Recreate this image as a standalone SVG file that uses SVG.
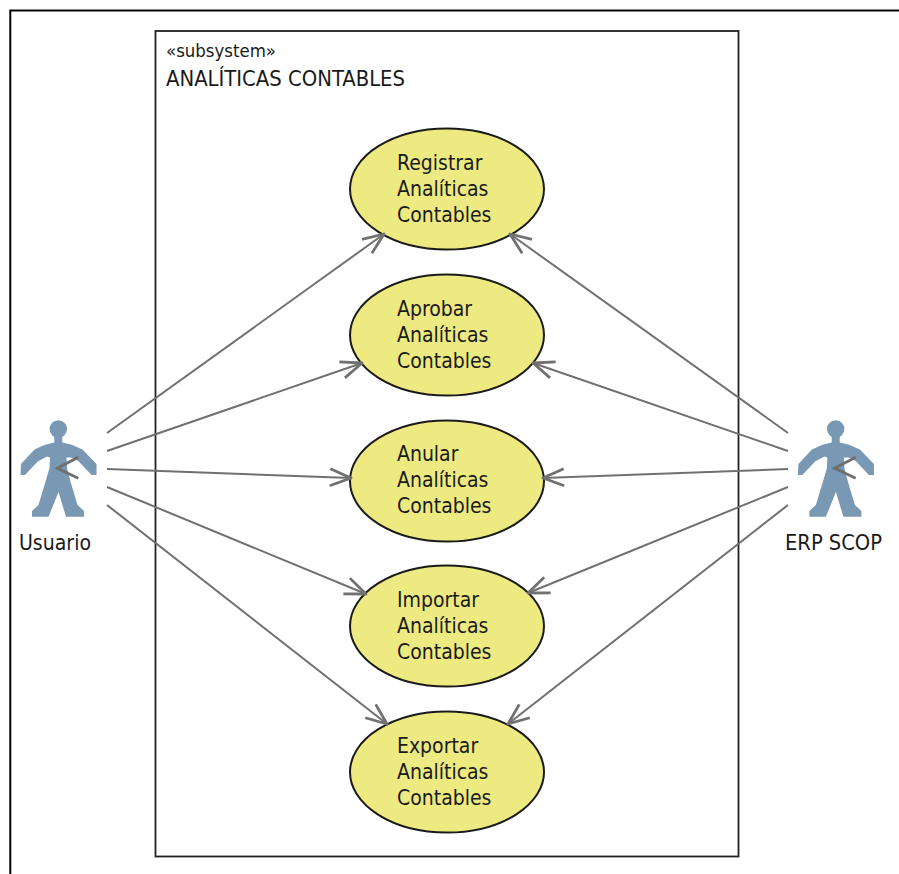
<svg xmlns="http://www.w3.org/2000/svg" width="899" height="874" viewBox="0 0 899 874">
<style>
text{font-family:"DejaVu Sans Condensed","DejaVu Sans","Liberation Sans",sans-serif;fill:#1a1a1a;font-size:21px}
.uc{fill:#eeea82;stroke:#1a1a1a;stroke-width:2}
.c{stroke:#707070;stroke-width:2;fill:none;marker-end:url(#a)}
.fig{fill:#7898b4}
.hd{stroke:#6e6e6e;stroke-width:2.800;fill:none}
</style>
<defs>
<marker id="a" markerUnits="userSpaceOnUse" markerWidth="30" markerHeight="30" viewBox="-25 -15 30 30" refX="0" refY="0" orient="auto"><path d="M-21 -8.500L0 0L-21 8.500" fill="none" stroke="#707070" stroke-width="2.800" stroke-linejoin="round"/></marker>
<g id="actor">
<circle class="fig" cx="58.300" cy="429" r="8.700"/>
<path class="fig" d="M54.300 436H62.300V442.500L71.700 444.700L82.500 449.500L96.500 464V475H91.500L78.300 461L71 457.500H66.500L67 468L70.500 481.700L77.500 505L84 511V516.700H66L58.500 492L48.500 516.700H32V511L38.500 505L45.500 481.700L49.500 468L50 457.500L47 456.500L37.700 461.500L25 475H20.500L21 464L34.500 449.500L45 444.700L54.300 442.500Z"/>
<path class="hd" d="M78.300 457.300L57.300 468.300L78.300 478.300"/>
</g>
</defs>
<rect width="899" height="874" fill="#fff"/>
<path d="M10.300 874V10.500H899" fill="none" stroke="#000" stroke-width="2"/>
<g id="subsystem">
<rect x="155.500" y="31" width="583" height="825.500" fill="#fff" stroke="#222" stroke-width="1.800"/>
<text x="166" y="57" style="font-size:18px" textLength="110" lengthAdjust="spacingAndGlyphs">«subsystem»</text>
<text x="166" y="86" style="font-size:22px" textLength="239" lengthAdjust="spacingAndGlyphs">ANALÍTICAS CONTABLES</text>
</g>
<g id="uc1"><ellipse class="uc" cx="447" cy="189" rx="97" ry="60.500"/><text x="397" y="170">Registrar</text><text x="397" y="196">Analíticas</text><text x="397" y="222">Contables</text></g>
<g id="uc2"><ellipse class="uc" cx="447" cy="335" rx="97" ry="60.500"/><text x="397" y="316">Aprobar</text><text x="397" y="342">Analíticas</text><text x="397" y="368">Contables</text></g>
<g id="uc3"><ellipse class="uc" cx="447" cy="481" rx="97" ry="60.500"/><text x="397" y="461">Anular</text><text x="397" y="487">Analíticas</text><text x="397" y="513">Contables</text></g>
<g id="uc4"><ellipse class="uc" cx="447" cy="626" rx="97" ry="60.500"/><text x="397" y="607">Importar</text><text x="397" y="633">Analíticas</text><text x="397" y="659">Contables</text></g>
<g id="uc5"><ellipse class="uc" cx="447" cy="772" rx="97" ry="60.500"/><text x="397" y="753">Exportar</text><text x="397" y="779">Analíticas</text><text x="397" y="805">Contables</text></g>
<g id="connectors">
<path class="c" d="M107 433L384 234"/><path class="c" d="M107 451L362 363"/><path class="c" d="M107 469L351 478"/><path class="c" d="M107 487L366 594"/><path class="c" d="M107 505L387 724"/>
<path class="c" d="M788 433L510 234"/><path class="c" d="M788 451L533 363"/><path class="c" d="M788 469L543 478"/><path class="c" d="M788 487L528 593"/><path class="c" d="M788 505L508 724"/>
</g>
<g id="usuario"><use href="#actor"/><text x="19" y="550" textLength="72" lengthAdjust="spacingAndGlyphs">Usuario</text></g>
<g id="erp"><use href="#actor" x="777.400"/><text x="785" y="550" textLength="97" lengthAdjust="spacingAndGlyphs">ERP SCOP</text></g>
</svg>
